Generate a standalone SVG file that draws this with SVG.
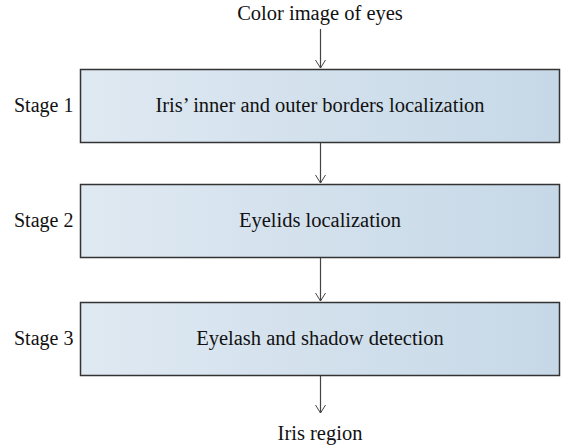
<svg xmlns="http://www.w3.org/2000/svg" width="561" height="448" viewBox="0 0 561 448">
<defs>
<linearGradient id="g" x1="0" y1="0" x2="1" y2="0">
<stop offset="0" stop-color="#dfe9f2"/>
<stop offset="1" stop-color="#c6d8e7"/>
</linearGradient>
<marker id="ah" markerWidth="12" markerHeight="12" refX="10" refY="6" orient="auto" markerUnits="userSpaceOnUse">
<path d="M2,1 L10,6 L2,11" fill="none" stroke="#444" stroke-width="1"/>
</marker>
<style>
.box{fill:url(#g);stroke:#333;stroke-width:1.5}
text{font-family:"Liberation Serif","Times New Roman",serif;font-size:20.5px;fill:#111}
.s{font-size:20px}
.c{text-anchor:middle}
.e{stroke:#444;stroke-width:1.2;fill:none;marker-end:url(#ah)}
</style>
</defs>
<g id="input"><text class="c" x="320" y="20">Color image of eyes</text></g>
<g id="stage1">
<rect class="box" x="80.5" y="69.5" width="479" height="73"/>
<text class="s" x="14" y="112">Stage 1</text>
<text class="c" x="320" y="112">Iris’ inner and outer borders localization</text>
</g>
<g id="stage2">
<rect class="box" x="80.5" y="184.5" width="479" height="73"/>
<text class="s" x="14" y="227">Stage 2</text>
<text class="c" x="320" y="227">Eyelids localization</text>
</g>
<g id="stage3">
<rect class="box" x="80.5" y="302.5" width="479" height="73"/>
<text class="s" x="14" y="345">Stage 3</text>
<text class="c" x="320" y="345">Eyelash and shadow detection</text>
</g>
<g id="output"><text class="c" x="320" y="440">Iris region</text></g>
<g id="connectors">
<line class="e" x1="320.5" y1="29" x2="320.5" y2="68"/>
<line class="e" x1="320.5" y1="143" x2="320.5" y2="183"/>
<line class="e" x1="320.5" y1="258" x2="320.5" y2="301"/>
<line class="e" x1="320.5" y1="376" x2="320.5" y2="413"/>
</g>
</svg>
